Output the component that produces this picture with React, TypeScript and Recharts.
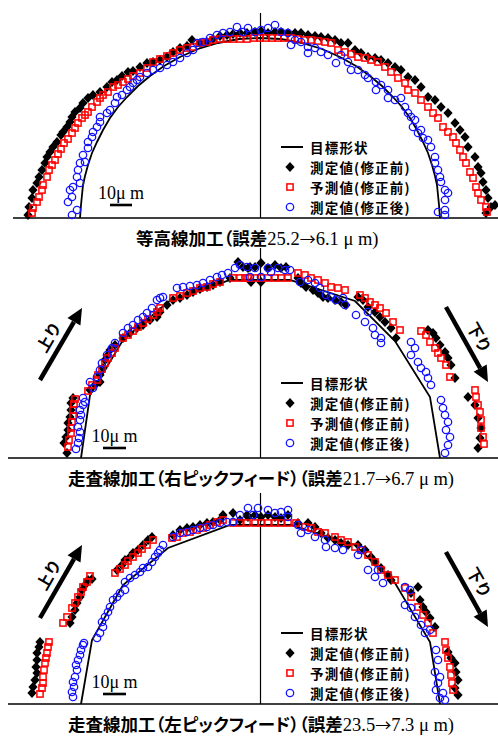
import * as React from "react"
import { ScatterChart, Scatter, XAxis, YAxis, ReferenceLine, Legend } from "recharts"

// positions are [x, h]: x from the center line, h above the base line (1 unit = 1 px of the figure)
type Pt = [number, number]

// --- 等高線加工 ---
const contourTarget: Pt[] = [
  [-180, 0], [-179, 13], [-178, 23], [-177, 33], [-175, 42], [-172, 53], [-168, 65], [-163, 76], [-157, 88],
  [-150, 100], [-142, 111], [-133, 121], [-122, 132], [-110, 142], [-96, 152], [-80, 161], [-62, 169], [-42, 175],
  [-21, 179], [0, 180], [21, 179], [42, 175], [62, 169], [80, 161], [96, 152], [110, 142], [122, 132], [133, 121],
  [142, 111], [150, 100], [157, 88], [163, 76], [168, 65], [172, 53], [175, 42], [177, 33], [178, 23], [179, 13], [180, 0],
]
const contourBefore: Pt[] = [
  [-232, 3], [-231, 11], [-228, 20], [-227, 28], [-223, 35], [-221, 41], [-218, 48], [-215, 55], [-213, 61], [-210, 66],
  [-207, 71], [-203, 76], [-199, 83], [-197, 86], [-193, 91], [-190, 96], [-188, 101], [-185, 106], [-180, 110],
  [-177, 115], [-172, 120], [-167, 123], [-160, 126], [-153, 131], [-148, 136], [-143, 138], [-138, 142], [-132, 146],
  [-127, 147], [-120, 151], [-113, 155], [-107, 156], [-100, 158], [-93, 161], [-87, 166], [-80, 170], [-73, 172],
  [-68, 178], [-60, 175], [-53, 176], [-47, 179], [-40, 182], [-33, 183], [-27, 184], [-20, 185], [-13, 185], [-5, 186],
  [1, 187], [8, 185], [15, 186], [21, 186], [28, 185], [35, 185], [41, 185], [48, 183], [55, 182], [61, 181], [68, 180],
  [75, 178], [81, 175], [88, 175], [95, 168], [101, 165], [108, 161], [115, 160], [121, 158], [128, 155], [135, 151],
  [141, 148], [148, 141], [155, 138], [161, 131], [168, 121], [175, 118], [181, 111], [188, 105], [195, 95], [200, 88],
  [205, 81], [208, 71], [215, 61], [218, 51], [221, 45], [223, 36], [226, 28], [228, 20], [231, 11], [235, 13], [226, 5],
]
const contourPredicted: Pt[] = [
  [-228, 5], [-227, 10], [-223, 16], [-221, 21], [-218, 28], [-217, 33], [-213, 41], [-211, 48], [-208, 53], [-205, 58],
  [-202, 64], [-199, 69], [-196, 75], [-192, 79], [-188, 85], [-185, 90], [-182, 95], [-178, 100], [-175, 103],
  [-172, 106], [-168, 111], [-163, 116], [-160, 120], [-157, 123], [-152, 126], [-147, 131], [-142, 133], [-137, 136],
  [-132, 139], [-127, 142], [-120, 145], [-113, 150], [-107, 156], [-100, 159], [-93, 162], [-87, 165], [-80, 168],
  [-73, 170], [-67, 171], [-60, 175], [-53, 176], [-47, 178], [-40, 179], [-33, 179], [-27, 179], [-20, 179], [-13, 179],
  [-6, 180], [0, 180], [6, 180], [12, 180], [18, 180], [24, 180], [31, 180], [38, 179], [45, 178], [51, 178], [58, 177],
  [65, 176], [71, 175], [78, 168], [85, 166], [91, 164], [98, 161], [105, 160], [111, 158], [118, 156], [125, 151],
  [131, 146], [138, 140], [145, 135], [148, 128], [155, 125], [161, 118], [168, 111], [173, 105], [178, 100], [183, 91],
  [188, 86], [193, 81], [196, 75], [200, 68], [203, 61], [206, 55], [210, 46], [213, 40], [216, 31], [218, 25], [221, 18],
  [226, 11], [227, 6],
]
const contourAfter: Pt[] = [
  [-188, 3], [-183, 8], [-192, 16], [-188, 21], [-190, 28], [-187, 31], [-180, 35], [-183, 41], [-182, 48], [-180, 55],
  [-175, 56], [-177, 63], [-172, 70], [-172, 76], [-168, 81], [-167, 86], [-163, 91], [-160, 96], [-160, 101],
  [-153, 105], [-150, 108], [-145, 115], [-143, 121], [-138, 123], [-133, 128], [-130, 131], [-127, 135], [-123, 138],
  [-120, 141], [-113, 145], [-107, 148], [-100, 150], [-93, 153], [-87, 156], [-80, 160], [-73, 165], [-67, 168],
  [-63, 175], [-57, 176], [-50, 180], [-43, 183], [-37, 185], [-30, 186], [-23, 191], [-17, 186], [-12, 190], [-5, 186],
  [1, 188], [8, 190], [15, 193], [21, 186], [28, 185], [35, 178], [31, 173], [41, 176], [48, 171], [48, 165], [55, 170],
  [61, 166], [68, 163], [76, 155], [81, 163], [88, 156], [91, 148], [98, 148], [105, 143], [108, 140], [116, 136],
  [116, 128], [121, 133], [128, 128], [128, 120], [135, 118], [141, 120], [145, 111], [148, 105], [151, 101], [155, 98],
  [153, 91], [158, 85], [161, 88], [163, 80], [168, 78], [171, 71], [175, 61], [175, 55], [178, 48], [180, 41], [181, 36],
  [185, 28], [188, 25], [185, 18], [185, 8], [178, 6], [185, 3],
]

// --- 走査線加工（右ピックフィード） ---
const rightTarget: Pt[] = [
  [-179, 0], [-170, 63], [-137, 118], [-92, 156], [-30, 178], [30, 178], [95, 157], [135, 117], [170, 61], [180, 0],
]
const rightBefore: Pt[] = [
  [-193, 5], [-196, 15], [-194, 21], [-192, 28], [-192, 35], [-190, 41], [-189, 48], [-189, 55], [-187, 60],
  [-170, 68], [-165, 73], [-160, 76], [-160, 83], [-157, 90], [-155, 98], [-152, 103], [-150, 108], [-145, 113],
  [-137, 120], [-130, 125], [-123, 130], [-117, 133], [-110, 138], [-103, 141], [-100, 146], [-93, 153], [-87, 158],
  [-80, 160], [-73, 163], [-67, 166], [-60, 169], [-53, 171], [-47, 173], [-40, 176], [-30, 180], [-22, 196],
  [-17, 191], [-12, 190], [-10, 191], [-5, 191], [1, 195], [8, 190], [15, 193], [21, 190], [26, 191], [-9, 176],
  [1, 176], [38, 180], [41, 175], [46, 171], [53, 168], [58, 165], [63, 161], [68, 160], [75, 158], [81, 156],
  [86, 153], [98, 161], [103, 158], [108, 151], [115, 146], [120, 141], [125, 136], [131, 130], [136, 120],
  [168, 128], [173, 125], [176, 120], [180, 113], [185, 106], [188, 100], [191, 93], [195, 80],
  [208, 61], [215, 53], [218, 40], [221, 30], [220, 20], [218, 10],
]
const rightPredicted: Pt[] = [
  [-192, 11], [-191, 18], [-189, 25], [-189, 30], [-188, 36], [-187, 42], [-187, 48], [-186, 54], [-185, 59],
  [-172, 67], [-168, 73], [-163, 78], [-162, 83], [-158, 89], [-155, 95], [-152, 100], [-148, 105], [-145, 110],
  [-137, 120], [-132, 123], [-127, 127], [-122, 131], [-117, 135], [-112, 139], [-107, 143], [-103, 146], [-100, 150],
  [-87, 160], [-80, 162], [-73, 165], [-67, 167], [-60, 170], [-53, 171], [-47, 174], [-40, 176], [-27, 180],
  [-20, 180], [-15, 180], [-12, 180], [-5, 180], [1, 180], [8, 180], [15, 180], [21, 180], [28, 180], [38, 185],
  [45, 183], [51, 180], [58, 178], [65, 175], [71, 171], [78, 170], [85, 168], [100, 163], [105, 160], [110, 156],
  [115, 153], [120, 150], [126, 145], [133, 136], [140, 128], [161, 127], [166, 123], [170, 116], [175, 110],
  [178, 105], [181, 100], [186, 93], [190, 81], [215, 68], [216, 61], [218, 53], [220, 46], [221, 38], [221, 30],
  [223, 21], [224, 14],
]
const rightAfter: Pt[] = [
  [-184, 9], [-182, 15], [-181, 20], [-180, 26], [-182, 31], [-180, 38], [-179, 43], [-180, 48], [-177, 53],
  [-175, 56], [-177, 60], [-170, 76], [-167, 70], [-163, 81], [-160, 88], [-158, 95], [-153, 103], [-148, 110],
  [-145, 115], [-137, 125], [-132, 130], [-127, 133], [-122, 138], [-117, 141], [-113, 145], [-108, 150],
  [-103, 158], [-100, 160], [-97, 161], [-83, 170], [-77, 171], [-70, 172], [-63, 173], [-57, 175], [-50, 178],
  [-43, 181], [-38, 183], [-32, 185], [-25, 190], [-20, 193], [-13, 191], [-10, 181], [-5, 190], [1, 181], [8, 190],
  [11, 186], [18, 190], [25, 188], [30, 188], [40, 176], [48, 178], [55, 175], [60, 170], [66, 163], [71, 161],
  [76, 158], [83, 160], [85, 153], [96, 143], [105, 136], [108, 146], [113, 130], [115, 123], [121, 120], [121, 115],
  [151, 116], [155, 110], [151, 103], [158, 96], [161, 90], [166, 86], [168, 80], [171, 73], [181, 58], [183, 50],
  [185, 43], [188, 36], [186, 28], [190, 21], [188, 13], [185, 5],
]

// --- 走査線加工（左ピックフィード） ---
const leftTarget: Pt[] = [
  [-179, 0], [-168, 64], [-137, 119], [-92, 156], [-30, 179], [31, 179], [95, 159], [135, 121], [170, 62], [180, 0],
]
const leftBefore: Pt[] = [
  [-228, 11], [-227, 17], [-225, 24], [-223, 31], [-224, 37], [-223, 44], [-223, 51], [-221, 57], [-220, 62],
  [-190, 81], [-188, 87], [-185, 94], [-183, 101], [-180, 107], [-178, 114], [-175, 119], [-172, 124], [-168, 125],
  [-143, 134], [-138, 139], [-135, 144], [-130, 147], [-127, 151], [-122, 154], [-117, 159], [-112, 164], [-108, 167],
  [-87, 169], [-80, 174], [-73, 176], [-67, 177], [-60, 179], [-53, 181], [-47, 182], [-40, 184], [-37, 189],
  [-27, 191], [-20, 184], [-13, 189], [-12, 187], [-5, 189], [1, 187], [8, 189], [15, 187], [21, 186], [28, 189],
  [38, 181], [48, 181], [55, 177], [61, 171], [68, 166], [75, 164], [81, 161], [88, 159], [98, 159], [105, 154],
  [111, 147], [115, 142], [121, 136], [128, 129], [131, 124], [151, 111], [158, 117], [160, 104], [163, 97],
  [166, 92], [170, 86], [175, 77], [188, 52], [191, 46], [195, 41], [196, 32], [198, 24], [195, 16], [198, 9],
]
const leftPredicted: Pt[] = [
  [-220, 10], [-218, 16], [-217, 21], [-217, 27], [-216, 34], [-215, 41], [-214, 46], [-213, 51], [-212, 57], [-211, 62],
  [-197, 81], [-193, 87], [-188, 96], [-185, 101], [-182, 107], [-179, 112], [-177, 117], [-173, 122], [-170, 128],
  [-145, 131], [-140, 135], [-135, 139], [-132, 143], [-127, 147], [-122, 151], [-118, 155], [-113, 159], [-107, 164],
  [-88, 166], [-83, 167], [-77, 171], [-70, 172], [-63, 174], [-57, 176], [-50, 179], [-43, 182], [-37, 184],
  [-27, 181], [-20, 181], [-13, 181], [-5, 181], [1, 181], [8, 181], [15, 181], [21, 181], [28, 181], [36, 181],
  [45, 177], [51, 176], [58, 172], [65, 171], [75, 167], [81, 164], [88, 162], [95, 157], [101, 154], [108, 149],
  [115, 142], [121, 134], [128, 129], [135, 124], [145, 116], [151, 107], [158, 97], [163, 89], [168, 81], [173, 71],
  [185, 62], [186, 54], [188, 46], [190, 37], [191, 29], [192, 21], [193, 14],
]
const leftAfter: Pt[] = [
  [-187, 7], [-188, 12], [-186, 17], [-187, 22], [-185, 27], [-183, 34], [-184, 39], [-182, 44], [-180, 49],
  [-179, 54], [-177, 59], [-176, 61], [-163, 66], [-160, 71], [-157, 77], [-158, 82], [-155, 87], [-152, 92],
  [-150, 97], [-147, 104], [-143, 107], [-140, 111], [-135, 114], [-135, 122], [-130, 126], [-125, 129], [-120, 132],
  [-117, 136], [-112, 137], [-108, 142], [-105, 147], [-102, 151], [-100, 154], [-97, 159], [-87, 167], [-80, 171],
  [-73, 172], [-67, 174], [-60, 176], [-53, 177], [-47, 179], [-40, 181], [-33, 182], [-27, 182], [-20, 189],
  [-12, 196], [-7, 189], [-2, 196], [8, 194], [15, 191], [21, 192], [28, 194], [28, 187], [38, 179], [41, 171],
  [48, 174], [55, 167], [65, 164], [66, 157], [75, 156], [83, 154], [98, 149], [101, 154], [108, 134], [115, 127],
  [118, 134], [123, 121], [145, 117], [150, 114], [145, 99], [151, 96], [155, 87], [161, 79], [165, 71], [170, 74],
  [176, 54], [178, 44], [175, 32], [180, 27], [178, 21], [176, 14], [183, 11], [180, 6], [185, 4],
]

const legendLabels = ["目標形状", "測定値(修正前)", "予測値(修正前)", "測定値(修正後)"]

const RED = "#ff0000"
const BLUE = "#1414ff"
const CJK = '"Noto Sans CJK JP", sans-serif'
const SERIF = '"Liberation Serif", "Times New Roman", serif'

const toPts = (a: Pt[]) => a.map(([x, h]) => ({ x, h }))

const Diamond = (p: any) => (
  <polygon
    points={`${p.cx},${p.cy - 5} ${p.cx + 4.6},${p.cy} ${p.cx},${p.cy + 5} ${p.cx - 4.6},${p.cy}`}
    fill="#000"
  />
)
const Square = (p: any) => (
  <rect x={p.cx - 3.1} y={p.cy - 3.1} width={6.2} height={6.2} fill="none" stroke={RED} strokeWidth={1.5} />
)
const Ring = (p: any) => <circle cx={p.cx} cy={p.cy} r={3.7} fill="none" stroke={BLUE} strokeWidth={1.3} />
const NoDot = () => <g />

function LegendRows() {
  const icons = [
    <line key="l" x1={3} y1={10} x2={25} y2={10} stroke="#000" strokeWidth={2} />,
    <Diamond key="d" cx={12} cy={10} />,
    <Square key="s" cx={12} cy={10} />,
    <Ring key="r" cx={12} cy={10} />,
  ]
  return (
    <div style={{ fontFamily: CJK, fontWeight: 700, fontSize: 13.5, letterSpacing: 1.2, color: "#000" }}>
      {legendLabels.map((label, i) => (
        <div key={label + i} style={{ display: "flex", alignItems: "center", height: 20 }}>
          <svg width={32} height={20}>{icons[i]}</svg>
          <span style={{ lineHeight: "20px", whiteSpace: "nowrap" }}>{label}</span>
        </div>
      ))}
    </div>
  )
}

// arrow drawn between the two end points of a reference segment, with its label beside it
function arrowShape(text: string) {
  return (p: any) => {
    const { x1, y1, x2, y2 } = p
    const len = Math.hypot(x2 - x1, y2 - y1)
    const ux = (x2 - x1) / len
    const uy = (y2 - y1) / len
    const head = 16
    const half = 7.5
    const bx = x2 - ux * head
    const by = y2 - uy * head
    const mx = (x1 + x2) / 2 + uy * 15
    const my = (y1 + y2) / 2 - ux * 15
    const angle = (Math.atan2(uy, ux) * 180) / Math.PI
    return (
      <g>
        <line x1={x1} y1={y1} x2={bx} y2={by} stroke="#000" strokeWidth={4.5} />
        <polygon
          points={`${x2},${y2} ${bx - uy * half},${by + ux * half} ${bx + uy * half},${by - ux * half}`}
          fill="#000"
        />
        <text
          x={mx}
          y={my}
          transform={`rotate(${angle} ${mx} ${my})`}
          textAnchor="middle"
          dominantBaseline="central"
          fontFamily={CJK}
          fontWeight={700}
          fontSize={16}
          fill="#000"
        >
          {text}
        </text>
      </g>
    )
  }
}

// 10 μm scale bar with its text above
const scaleBar = (p: any) => {
  const { x1, y1, x2 } = p
  return (
    <g>
      <line x1={x1} y1={y1} x2={x2} y2={y1} stroke="#000" strokeWidth={2.6} />
      <text x={(x1 + x2) / 2} y={y1 - 6} textAnchor="middle" fontFamily={SERIF} fontSize={18} fill="#000">
        10μ m
      </text>
    </g>
  )
}

interface PanelProps {
  top: number
  target: Pt[]
  before: Pt[]
  predicted: Pt[]
  after: Pt[]
  axisTop: number
  baseFrom: number
  bar: [number, number, number]
  legendTop: number
  arrowUp?: [Pt, Pt]
  arrowDown?: [Pt, Pt]
}

function Panel({ top, target, before, predicted, after, axisTop, baseFrom, bar, legendTop, arrowUp, arrowDown }: PanelProps) {
  return (
    <div style={{ position: "absolute", left: 0, top, width: 498, height: 225 }}>
      <ScatterChart width={498} height={225} margin={{ top: 0, right: 0, bottom: 0, left: 0 }}>
        <XAxis type="number" dataKey="x" domain={[-260, 238]} allowDataOverflow hide />
        <YAxis type="number" dataKey="h" domain={[-10, 215]} allowDataOverflow hide />
        <ReferenceLine segment={[{ x: baseFrom, y: 0 }, { x: 238, y: 0 }]} stroke="#000" strokeWidth={1.4} />
        <ReferenceLine segment={[{ x: 0.5, y: 0 }, { x: 0.5, y: axisTop }]} stroke="#000" strokeWidth={1.2} />
        <ReferenceLine segment={[{ x: bar[0], y: bar[2] }, { x: bar[1], y: bar[2] }]} shape={scaleBar} />
        {arrowUp && (
          <ReferenceLine
            segment={[{ x: arrowUp[0][0], y: arrowUp[0][1] }, { x: arrowUp[1][0], y: arrowUp[1][1] }]}
            shape={arrowShape("上り")}
          />
        )}
        {arrowDown && (
          <ReferenceLine
            segment={[{ x: arrowDown[0][0], y: arrowDown[0][1] }, { x: arrowDown[1][0], y: arrowDown[1][1] }]}
            shape={arrowShape("下り")}
          />
        )}
        <Scatter
          name="目標形状"
          data={toPts(target)}
          line={{ stroke: "#000", strokeWidth: 1.8 }}
          shape={NoDot}
          isAnimationActive={false}
        />
        <Scatter name="測定値(修正前)" data={toPts(before)} shape={Diamond} isAnimationActive={false} />
        <Scatter name="予測値(修正前)" data={toPts(predicted)} shape={Square} isAnimationActive={false} />
        <Scatter name="測定値(修正後)" data={toPts(after)} shape={Ring} isAnimationActive={false} />
        <Legend
          layout="vertical"
          align="center"
          verticalAlign="middle"
          wrapperStyle={{ left: 278, top: legendTop, width: 210, height: 84 }}
          content={() => <LegendRows />}
        />
      </ScatterChart>
    </div>
  )
}

function Caption({ top, left, cjk, from, to }: { top: number; left: number; cjk: string; from: string; to: string }) {
  return (
    <div
      style={{
        position: "absolute",
        left,
        top,
        whiteSpace: "nowrap",
        lineHeight: "22px",
        color: "#000",
        fontFeatureSettings: '"palt"',
      }}
    >
      <span style={{ fontFamily: CJK, fontWeight: 700, fontSize: 17.5 }}>{cjk}</span>
      <span style={{ fontFamily: SERIF, fontSize: 18.5 }}>{from}</span>
      <span style={{ fontFamily: CJK, fontSize: 16 }}>→</span>
      <span style={{ fontFamily: SERIF, fontSize: 18.5 }}>{to} μ m)</span>
    </div>
  )
}

export default function App() {
  return (
    <div style={{ position: "absolute", left: 0, top: 0, width: 498, height: 736, background: "#fff", overflow: "hidden" }}>
      <Panel
        top={3}
        target={contourTarget}
        before={contourBefore}
        predicted={contourPredicted}
        after={contourAfter}
        axisTop={205}
        baseFrom={-247}
        bar={[-150, -128, 13]}
        legendTop={134}
      />
      <Caption top={227} left={136} cjk="等高線加工（誤差" from="25.2" to="6.1" />
      <Panel
        top={243}
        target={rightTarget}
        before={rightBefore}
        predicted={rightPredicted}
        after={rightAfter}
        axisTop={210}
        baseFrom={-252}
        bar={[-157, -134, 10]}
        legendTop={130}
        arrowUp={[[-220, 78], [-178, 150]]}
        arrowDown={[[186, 151], [228, 76]]}
      />
      <Caption top={467} left={68} cjk="走査線加工（右ピックフィード）（誤差" from="21.7" to="6.7" />
      <Panel
        top={489}
        target={leftTarget}
        before={leftBefore}
        predicted={leftPredicted}
        after={leftAfter}
        axisTop={211}
        baseFrom={-252}
        bar={[-157, -134, 10]}
        legendTop={134}
        arrowUp={[[-220, 86], [-178, 159]]}
        arrowDown={[[186, 152], [228, 77]]}
      />
      <Caption top={713} left={68} cjk="走査線加工（左ピックフィード）（誤差" from="23.5" to="7.3" />
    </div>
  )
}
